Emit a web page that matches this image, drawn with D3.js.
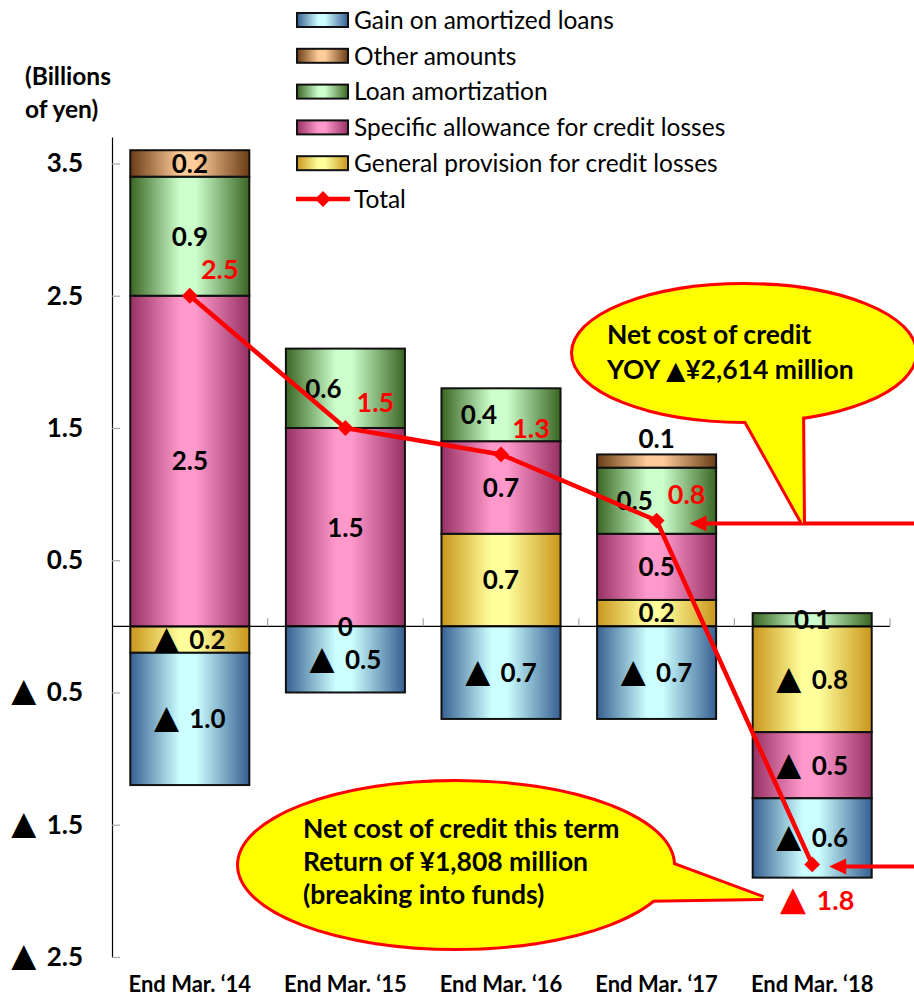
<!DOCTYPE html>
<html>
<head>
<meta charset="utf-8">
<script src="https://cdn.jsdelivr.net/npm/d3@7"></script>
<style>
  body { margin: 0; background: #fff; }
  svg { font-family: Lato, "Open Sans", sans-serif; }
</style>
</head>
<body>
<div id="chart"></div>
<script>
// values in billions of yen
const categories = ["End Mar. \u201814", "End Mar. \u201815", "End Mar. \u201816", "End Mar. \u201817", "End Mar. \u201818"];
const gainOnAmortized = [-1.0, -0.5, -0.7, -0.7, -0.6];
const otherAmounts = [0.2, null, null, 0.1, null];
const loanAmortization = [0.9, 0.6, 0.4, 0.5, 0.1];
const specificAllowance = [2.5, 1.5, 0.7, 0.5, -0.5];
const generalProvision = [-0.2, 0, 0.7, 0.2, -0.8];
const totals = [2.5, 1.5, 1.3, 0.8, -1.8];
const yTicks = [3.5, 2.5, 1.5, 0.5, -0.5, -1.5, -2.5];

const width = 914, height = 998;
const margin = {top: 137, bottom: 41, left: 112, right: 24};
const labelSize = 26;

// stacking order (from zero outwards)
const series = [
    {key: "general", name: "General provision for credit losses", values: generalProvision, dark: "#c9961c", light: "#ffff9c"},
    {key: "specific", name: "Specific allowance for credit losses", values: specificAllowance, dark: "#983163", light: "#ff99cc"},
    {key: "loan", name: "Loan amortization", values: loanAmortization, dark: "#3a6623", light: "#ccffcc"},
    {key: "other", name: "Other amounts", values: otherAmounts, dark: "#6a3c16", light: "#ffcc99"},
    {key: "gain", name: "Gain on amortized loans", values: gainOnAmortized, dark: "#366092", light: "#ccffff"}
];
const legendOrder = ["gain", "other", "loan", "specific", "general"];

let rows = categories.map((c, i) => {
    let r = {cat: c, total: totals[i]};
    series.forEach(s => r[s.key] = s.values[i]);
    return r;
});

let stacked = d3.stack()
    .keys(series.map(s => s.key))
    .value((d, k) => d[k] || 0)
    .offset(d3.stackOffsetDiverging)(rows);

let x = d3.scaleBand()
    .domain(categories)
    .range([margin.left, width - margin.right])
    .paddingInner(0.235)
    .paddingOuter(0.1175);

let y = d3.scaleLinear()
    .domain([-2.5, 3.7])
    .range([height - margin.bottom, margin.top]);

let num = d3.format(".1f");

// negative numbers are written with a black triangle in front
function writeValue(sel, v) {
    sel.text(null);
    if (v < 0) {
        sel.append("tspan")
            .attr("font-family", "DejaVu Sans")
            .attr("font-size", "1.25em")
            .text("\u25B2");
        sel.append("tspan").attr("dx", 4).text(" " + num(-v));
    } else {
        sel.append("tspan").text(v === 0 ? "0" : num(v));
    }
}

let svg = d3.select("#chart").append("svg")
    .attr("width", width)
    .attr("height", height);

// gradients: dark edges, light middle
let defs = svg.append("defs");
series.forEach(s => {
    let g = defs.append("linearGradient")
        .attr("id", "grad_" + s.key)
        .attr("x1", 0).attr("x2", 1).attr("y1", 0).attr("y2", 0);
    g.append("stop").attr("offset", "0%").attr("stop-color", s.dark);
    g.append("stop").attr("offset", "42%").attr("stop-color", s.light);
    g.append("stop").attr("offset", "55%").attr("stop-color", s.light);
    g.append("stop").attr("offset", "100%").attr("stop-color", s.dark);
});

//AXES----------------------------------------------------------------------
let yAxis = d3.axisLeft(y)
    .tickValues(yTicks)
    .tickSize(-8)
    .tickSizeOuter(0)
    .tickPadding(29);

let yAxisGroup = svg.append("g")
    .attr("transform", `translate(${margin.left},0)`)
    .call(yAxis);
yAxisGroup.select(".domain").attr("stroke", "#000").attr("stroke-width", 1.2);
yAxisGroup.selectAll(".tick line").attr("stroke", "#a6a6a6").attr("stroke-width", 1.2);
yAxisGroup.selectAll(".tick text")
    .attr("font-size", labelSize)
    .attr("font-weight", "bold")
    .attr("fill", "#000")
    .attr("font-family", "Lato, sans-serif")
    .each(function(d) { writeValue(d3.select(this), d); });

svg.append("text")
    .attr("x", 25).attr("y", 85)
    .attr("font-size", 24.5).attr("font-weight", "bold")
    .text("(Billions");
svg.append("text")
    .attr("x", 25).attr("y", 118)
    .attr("font-size", 24.5).attr("font-weight", "bold")
    .text("of yen)");

// category labels
svg.append("g").selectAll("text")
    .data(categories)
    .join("text")
    .attr("x", d => x(d) + x.bandwidth() / 2)
    .attr("y", 992)
    .attr("text-anchor", "middle")
    .attr("font-size", 22)
    .attr("font-weight", "bold")
    .text(d => d);

//BARS----------------------------------------------------------------------
let layers = svg.append("g").selectAll("g")
    .data(stacked)
    .join("g")
    .attr("fill", d => `url(#grad_${d.key})`);

layers.selectAll("rect")
    .data(d => d.filter(p => p[1] - p[0] !== 0))
    .join("rect")
    .attr("x", d => x(d.data.cat))
    .attr("width", x.bandwidth())
    .attr("y", d => y(d[1]))
    .attr("height", d => y(d[0]) - y(d[1]))
    .attr("stroke", "#111")
    .attr("stroke-width", 2);

// zero line with category ticks
let y0 = y(0);
svg.append("line")
    .attr("x1", margin.left).attr("x2", width - margin.right)
    .attr("y1", y0).attr("y2", y0)
    .attr("stroke", "#000").attr("stroke-width", 1.2);
svg.append("g").selectAll("line")
    .data(categories)
    .join("line")
    .attr("x1", d => x(d) + x.step() * (1 - x.paddingInner() / 2))
    .attr("x2", d => x(d) + x.step() * (1 - x.paddingInner() / 2))
    .attr("y1", y0).attr("y2", y0 - 8)
    .attr("stroke", "#a6a6a6").attr("stroke-width", 1.2);

let cx = d => x(d.cat) + x.bandwidth() / 2;
let totalDx = 30, totalDy = -26;

// segment labels
let segLabels = [];
stacked.forEach(layer => {
    layer.forEach(p => {
        let v = p.data[layer.key];
        if (v === null || v === undefined) return;
        let h = y(p[0]) - y(p[1]);
        let ly = y((p[0] + p[1]) / 2);
        let lx = cx(p.data);
        if (layer.key === "other" && h < 20) ly = y(p[1]) - 16;
        // nudge left when the total label sits on the same spot
        let t = p.data.total;
        if (t > 0 && Math.abs(ly - (y(t) + totalDy)) < 24 && lx + 22 > cx(p.data) + totalDx - 22) lx -= 22;
        segLabels.push({x: lx, y: ly, v: v});
    });
});
svg.append("g").selectAll("text")
    .data(segLabels)
    .join("text")
    .attr("x", d => d.x)
    .attr("y", d => d.y)
    .attr("dy", "0.36em")
    .attr("text-anchor", "middle")
    .attr("font-size", labelSize)
    .attr("font-weight", "bold")
    .each(function(d) { writeValue(d3.select(this), d.v); });

//TOTAL LINE----------------------------------------------------------------
let line = d3.line().x(cx).y(d => y(d.total));

svg.append("path")
    .datum(rows)
    .attr("d", line)
    .attr("fill", "none")
    .attr("stroke", "#ff0000")
    .attr("stroke-width", 4.5)
    .attr("stroke-linejoin", "round");

let diamond = d3.symbol().type(d3.symbolDiamond2).size(160);
svg.append("g").selectAll("path")
    .data(rows)
    .join("path")
    .attr("transform", d => `translate(${cx(d)},${y(d.total)})`)
    .attr("d", diamond)
    .attr("fill", "#ff0000");

svg.append("g").selectAll("text")
    .data(rows)
    .join("text")
    .attr("x", d => d.total < 0 ? cx(d) + 5 : cx(d) + totalDx)
    .attr("y", d => d.total < 0 ? y(d.total) + 36 : y(d.total) + totalDy)
    .attr("dy", "0.36em")
    .attr("text-anchor", "middle")
    .attr("font-size", 27)
    .attr("font-weight", "bold")
    .attr("fill", "#ff0000")
    .each(function(d) { writeValue(d3.select(this), d.total); });

//CALLOUTS------------------------------------------------------------------
function callout(c) {
    let g = svg.append("g");
    let tri = [c.base[0], c.base[1], c.tip];
    // thick red underlay, then yellow fill => union with red outline
    [["#ff0000", "#ff0000", 6], ["#ffff00", "none", 0]].forEach(([fill, stroke, sw]) => {
        g.append("ellipse")
            .attr("cx", c.cx).attr("cy", c.cy).attr("rx", c.rx).attr("ry", c.ry)
            .attr("fill", fill).attr("stroke", stroke).attr("stroke-width", sw);
        g.append("polygon")
            .attr("points", tri.map(p => p.join(",")).join(" "))
            .attr("fill", fill).attr("stroke", stroke).attr("stroke-width", sw)
            .attr("stroke-linejoin", "miter");
    });
    let txt = g.selectAll("text.line")
        .data(c.lines)
        .join("text")
        .attr("x", c.tx)
        .attr("y", (d, i) => c.ty + i * c.lh)
        .attr("font-size", 26.5)
        .attr("font-weight", "bold");
    txt.each(function(d) {
        let parts = d.split("\u25B2");
        let t = d3.select(this);
        parts.forEach((s, i) => {
            if (i > 0) t.append("tspan").attr("font-family", "DejaVu Sans").attr("font-size", "0.95em").text("\u25B2");
            t.append("tspan").text(s);
        });
    });
}

function arrow(tipX, tipY) {
    svg.append("line")
        .attr("x1", width).attr("x2", tipX + 10)
        .attr("y1", tipY).attr("y2", tipY)
        .attr("stroke", "#ff0000").attr("stroke-width", 4);
    svg.append("polygon")
        .attr("points", `${tipX},${tipY} ${tipX + 17},${tipY - 8} ${tipX + 17},${tipY + 8}`)
        .attr("fill", "#ff0000");
}

let r17 = rows[3], r18 = rows[4];
arrow(cx(r17) + 33, y(r17.total) + 3);
arrow(cx(r18) + 17, y(r18.total) + 2);

callout({
    cx: 744, cy: 353, rx: 171, ry: 68,
    base: [[737, 405], [802, 405]], tip: [803, y(r17.total) + 3],
    lines: ["Net cost of credit", "YOY \u25B2\u00A52,614 million"],
    tx: 607, ty: 344, lh: 35
});

callout({
    cx: 456, cy: 865, rx: 217, ry: 83,
    base: [[655, 858], [635, 900]], tip: [763, 898],
    lines: ["Net cost of credit this term", "Return of \u00A51,808 million", "(breaking into funds)"],
    tx: 303, ty: 838, lh: 33
});

//LEGEND--------------------------------------------------------------------
let legendY = d3.scalePoint().domain(d3.range(6)).range([20, 199]);
let legend = svg.append("g");
legendOrder.forEach((k, i) => {
    let s = series.find(s => s.key === k);
    legend.append("rect")
        .attr("x", 297).attr("y", legendY(i) - 7)
        .attr("width", 51).attr("height", 14)
        .attr("fill", `url(#grad_${k})`)
        .attr("stroke", "#111").attr("stroke-width", 2);
    legend.append("text")
        .attr("x", 354).attr("y", legendY(i))
        .attr("dy", "0.36em")
        .attr("font-size", 24.5)
        .text(s.name);
});
legend.append("line")
    .attr("x1", 296).attr("x2", 350)
    .attr("y1", legendY(5)).attr("y2", legendY(5))
    .attr("stroke", "#ff0000").attr("stroke-width", 4.5);
legend.append("path")
    .attr("transform", `translate(323,${legendY(5)})`)
    .attr("d", diamond)
    .attr("fill", "#ff0000");
legend.append("text")
    .attr("x", 354).attr("y", legendY(5))
    .attr("dy", "0.36em")
    .attr("font-size", 24.5)
    .text("Total");
</script>
</body>
</html>
